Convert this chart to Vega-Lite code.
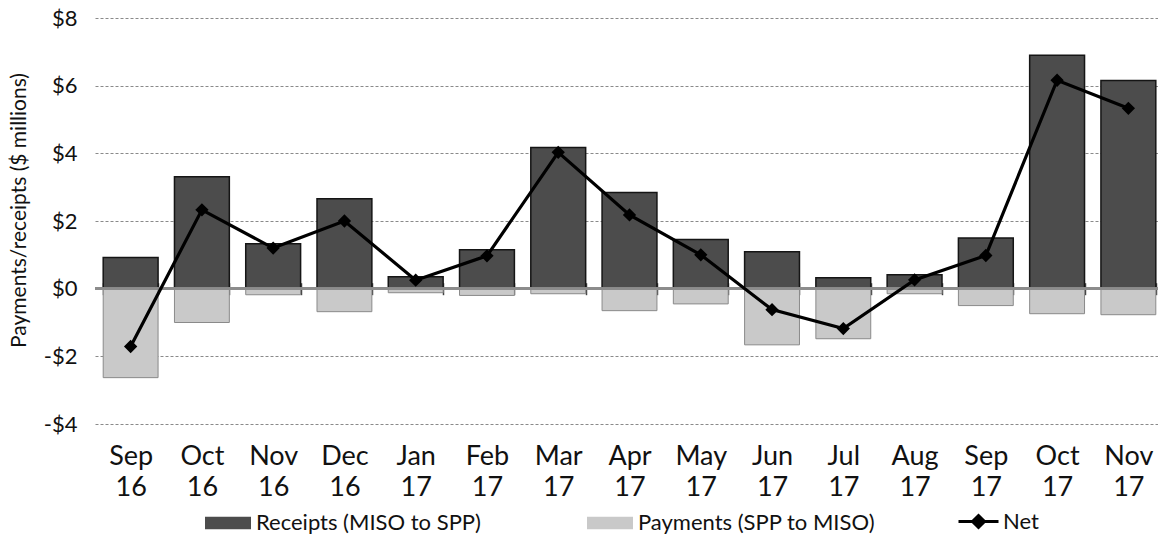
{
  "$schema": "https://vega.github.io/schema/vega-lite/v6.json",
  "autosize": {"type": "none"},
  "width": 1063,
  "height": 406,
  "padding": {"left": 95, "top": 18, "right": 0, "bottom": 116},
  "background": "white",
  "config": {
    "font": "Lato",
    "view": {"stroke": null},
    "axis": {"labelFont": "Lato", "titleFont": "Lato"},
    "legend": {"labelFont": "Lato"}
  },
  "data": {
    "values": [
      {"month": "Sep 16", "series": "Receipts (MISO to SPP)", "value": 0.92},
      {"month": "Oct 16", "series": "Receipts (MISO to SPP)", "value": 3.31},
      {"month": "Nov 16", "series": "Receipts (MISO to SPP)", "value": 1.33},
      {"month": "Dec 16", "series": "Receipts (MISO to SPP)", "value": 2.66},
      {"month": "Jan 17", "series": "Receipts (MISO to SPP)", "value": 0.35},
      {"month": "Feb 17", "series": "Receipts (MISO to SPP)", "value": 1.15},
      {"month": "Mar 17", "series": "Receipts (MISO to SPP)", "value": 4.17},
      {"month": "Apr 17", "series": "Receipts (MISO to SPP)", "value": 2.84},
      {"month": "May 17", "series": "Receipts (MISO to SPP)", "value": 1.45},
      {"month": "Jun 17", "series": "Receipts (MISO to SPP)", "value": 1.09},
      {"month": "Jul 17", "series": "Receipts (MISO to SPP)", "value": 0.32},
      {"month": "Aug 17", "series": "Receipts (MISO to SPP)", "value": 0.41},
      {"month": "Sep 17", "series": "Receipts (MISO to SPP)", "value": 1.5},
      {"month": "Oct 17", "series": "Receipts (MISO to SPP)", "value": 6.9},
      {"month": "Nov 17", "series": "Receipts (MISO to SPP)", "value": 6.15},
      {"month": "Sep 16", "series": "Payments (SPP to MISO)", "value": -2.63},
      {"month": "Oct 16", "series": "Payments (SPP to MISO)", "value": -1.0},
      {"month": "Nov 16", "series": "Payments (SPP to MISO)", "value": -0.18},
      {"month": "Dec 16", "series": "Payments (SPP to MISO)", "value": -0.68},
      {"month": "Jan 17", "series": "Payments (SPP to MISO)", "value": -0.12},
      {"month": "Feb 17", "series": "Payments (SPP to MISO)", "value": -0.2},
      {"month": "Mar 17", "series": "Payments (SPP to MISO)", "value": -0.15},
      {"month": "Apr 17", "series": "Payments (SPP to MISO)", "value": -0.65},
      {"month": "May 17", "series": "Payments (SPP to MISO)", "value": -0.45},
      {"month": "Jun 17", "series": "Payments (SPP to MISO)", "value": -1.66},
      {"month": "Jul 17", "series": "Payments (SPP to MISO)", "value": -1.48},
      {"month": "Aug 17", "series": "Payments (SPP to MISO)", "value": -0.15},
      {"month": "Sep 17", "series": "Payments (SPP to MISO)", "value": -0.5},
      {"month": "Oct 17", "series": "Payments (SPP to MISO)", "value": -0.74},
      {"month": "Nov 17", "series": "Payments (SPP to MISO)", "value": -0.77},
      {"month": "Sep 16", "series": "Net", "value": -1.71},
      {"month": "Oct 16", "series": "Net", "value": 2.33},
      {"month": "Nov 16", "series": "Net", "value": 1.2},
      {"month": "Dec 16", "series": "Net", "value": 2.0},
      {"month": "Jan 17", "series": "Net", "value": 0.25},
      {"month": "Feb 17", "series": "Net", "value": 0.97},
      {"month": "Mar 17", "series": "Net", "value": 4.03},
      {"month": "Apr 17", "series": "Net", "value": 2.18},
      {"month": "May 17", "series": "Net", "value": 1.0},
      {"month": "Jun 17", "series": "Net", "value": -0.62},
      {"month": "Jul 17", "series": "Net", "value": -1.18},
      {"month": "Aug 17", "series": "Net", "value": 0.26},
      {"month": "Sep 17", "series": "Net", "value": 0.98},
      {"month": "Oct 17", "series": "Net", "value": 6.16},
      {"month": "Nov 17", "series": "Net", "value": 5.33}
    ]
  },
  "encoding": {
    "x": {
      "field": "month",
      "type": "nominal",
      "sort": null,
      "scale": {"range": [0, 1069], "paddingInner": 0.23, "paddingOuter": 0.115},
      "axis": {
        "title": null,
        "orient": "bottom",
        "offset": -141.3,
        "domain": false,
        "ticks": true,
        "tickBand": "extent",
        "tickSize": 12,
        "tickWidth": 1.5,
        "tickColor": "#444",
        "labelAngle": 0,
        "labelFontSize": 27,
        "labelColor": "#111",
        "labelPadding": 149,
        "labelLineHeight": 31,
        "labelBaseline": "top",
        "labelExpr": "split(datum.label, ' ')"
      }
    },
    "y": {
      "field": "value",
      "type": "quantitative",
      "scale": {"domain": [-4, 8], "nice": false, "zero": false},
      "axis": {
        "title": "Payments/receipts ($ millions)",
        "titleFontSize": 21,
        "titleFontWeight": "normal",
        "titleColor": "#111",
        "titleX": -76,
        "titleY": 192,
        "titleAngle": -90,
        "titleAlign": "center",
        "titleBaseline": "middle",
        "values": [-4, -2, 0, 2, 4, 6, 8],
        "labelExpr": "(datum.value < 0 ? '-$' : '$') + abs(datum.value)",
        "labelFontSize": 22,
        "labelColor": "#111",
        "labelPadding": 18,
        "domain": false,
        "ticks": false,
        "grid": true,
        "gridDash": [3, 2],
        "gridColor": "#8a8a8a",
        "gridWidth": 1
      }
    }
  },
  "layer": [
    {
      "transform": [{"filter": "datum.series === 'Receipts (MISO to SPP)'"}],
      "mark": {"type": "bar", "stroke": "#151515", "strokeWidth": 1.5},
      "encoding": {
        "fill": {
          "field": "series",
          "type": "nominal",
          "scale": {"domain": ["Receipts (MISO to SPP)", "Payments (SPP to MISO)"], "range": ["#4c4c4c", "#c9c9c9"]},
          "legend": {
            "title": null,
            "orient": "none",
            "legendX": 110,
            "legendY": 482,
            "direction": "horizontal",
            "symbolType": "M-1,-0.27H1V0.27H-1Z",
            "symbolSize": 2116,
            "symbolStrokeWidth": 0,
            "labelFontSize": 22,
            "labelLimit": 500,
            "labelColor": "#111",
            "labelOffset": 5,
            "columnPadding": 106
          }
        }
      }
    },
    {
      "transform": [{"filter": "datum.series === 'Payments (SPP to MISO)'"}],
      "mark": {"type": "bar", "stroke": "#8a8a8a", "strokeWidth": 1},
      "encoding": {
        "fill": {"field": "series", "type": "nominal"}
      }
    },
    {
      "mark": {"type": "rule", "color": "#8c8c8c", "strokeWidth": 2},
      "encoding": {"y": {"datum": 0}, "x": null}
    },
    {
      "transform": [{"filter": "datum.series === 'Net'"}],
      "mark": {
        "type": "line",
        "strokeWidth": 3.2,
        "point": {"shape": "diamond", "filled": true, "size": 110, "color": "#000"}
      },
      "encoding": {
        "stroke": {
          "field": "series",
          "type": "nominal",
          "scale": {"domain": ["Net"], "range": ["#000000"]},
          "legend": {
            "title": null,
            "orient": "none",
            "legendX": 862,
            "legendY": 482,
            "symbolType": "M-1,0H1M0,-0.3L0.3,0L0,0.3L-0.3,0Z",
            "symbolSize": 1600,
            "symbolStrokeWidth": 3,
            "labelFontSize": 22,
            "labelColor": "#111",
            "labelOffset": 3,
            "encode": {"symbols": {"update": {"fill": {"value": "#000"}, "stroke": {"value": "#000"}}}}
          }
        }
      }
    }
  ]
}
